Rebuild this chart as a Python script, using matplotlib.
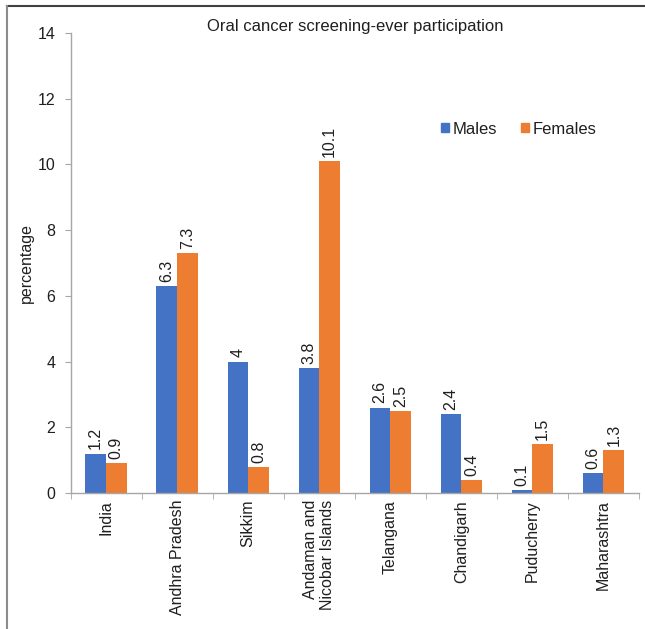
import matplotlib
matplotlib.use("Agg")
import matplotlib.pyplot as plt
import numpy as np
from matplotlib.lines import Line2D
from matplotlib.patches import Patch

categories = ["India", "Andhra Pradesh", "Sikkim", "Andaman and\nNicobar Islands",
              "Telangana", "Chandigarh", "Puducherry", "Maharashtra"]
males = [1.2, 6.3, 4.0, 3.8, 2.6, 2.4, 0.1, 0.6]
females = [0.9, 7.3, 0.8, 10.1, 2.5, 0.4, 1.5, 1.3]
male_labels = ["1.2", "6.3", "4", "3.8", "2.6", "2.4", "0.1", "0.6"]
female_labels = ["0.9", "7.3", "0.8", "10.1", "2.5", "0.4", "1.5", "1.3"]
yticks = [0, 2, 4, 6, 8, 10, 12, 14]
title = "Oral cancer screening-ever participation"

plt.rcParams['font.family'] = ['Liberation Sans', 'DejaVu Sans']
TXT = '#1f1f1f'
AX = '#a6a6a6'
BLUE = '#4472C4'
ORANGE = '#ED7D31'
FS = 11.5

W, H = 645, 629
fig = plt.figure(figsize=(W / 100, H / 100), dpi=100)
ax = fig.add_axes([70.5 / W, 1 - 493 / H, (639 - 70.5) / W, (493 - 33) / H])

x = np.arange(len(categories))
bw = 0.29
b1 = ax.bar(x - bw / 2, males, bw, color=BLUE, label="Males")
b2 = ax.bar(x + bw / 2, females, bw, color=ORANGE, label="Females")

for rect, lab in zip(b1, male_labels):
    ax.annotate(lab, (rect.get_x() + rect.get_width() / 2, rect.get_height()),
                xytext=(0, 3), textcoords='offset points', rotation=90,
                ha='center', va='bottom', fontsize=FS, color=TXT)
for rect, lab in zip(b2, female_labels):
    ax.annotate(lab, (rect.get_x() + rect.get_width() / 2, rect.get_height()),
                xytext=(0, 3), textcoords='offset points', rotation=90,
                ha='center', va='bottom', fontsize=FS, color=TXT)

ax.set_xlim(-0.5, len(categories) - 0.5)
ax.set_ylim(0, 14)
ax.set_yticks(yticks)
ax.set_yticklabels([str(v) for v in yticks], fontsize=FS, color=TXT)
ax.set_xticks(x)
ax.set_xticklabels(categories, rotation=90, ha='center', va='top',
                   fontsize=FS, color=TXT, multialignment='right')
ax.set_xticks(np.arange(-0.5, len(categories)), minor=True)
ax.tick_params(axis='x', which='major', length=0, pad=5)
ax.tick_params(axis='x', which='minor', length=4, color=AX, direction='out')
ax.tick_params(axis='y', length=4, color=AX, direction='out', pad=7)

for s in ['top', 'right']:
    ax.spines[s].set_visible(False)
for s in ['left', 'bottom']:
    ax.spines[s].set_color(AX)
    ax.spines[s].set_linewidth(1.0)

fig.text(355 / W, 1 - 26 / H, title, ha='center', va='center', fontsize=12, color=TXT)
fig.text(26 / W, 1 - 263 / H, "percentage", rotation=90, ha='center', va='center',
         fontsize=FS, color=TXT)

handles = [Patch(color=BLUE, label="Males"), Patch(color=ORANGE, label="Females")]
fig.legend(handles=handles, loc='center left', bbox_to_anchor=(441 / W, 1 - 129 / H),
           ncol=2, frameon=False, fontsize=12, handlelength=0.5, handleheight=0.5,
           handletextpad=0.2, columnspacing=1.4, borderpad=0, borderaxespad=0,
           labelcolor=TXT)

# outer frame (top and left edges visible)
fig.add_artist(Line2D([7 / W, 1], [1 - 6 / H, 1 - 6 / H], color='#404040', lw=1.5,
                      transform=fig.transFigure))
fig.add_artist(Line2D([7 / W, 7 / W], [0, 1 - 6 / H], color='#8c8c8c', lw=1.5,
                      transform=fig.transFigure))

fig.savefig("out.png", dpi=100)
